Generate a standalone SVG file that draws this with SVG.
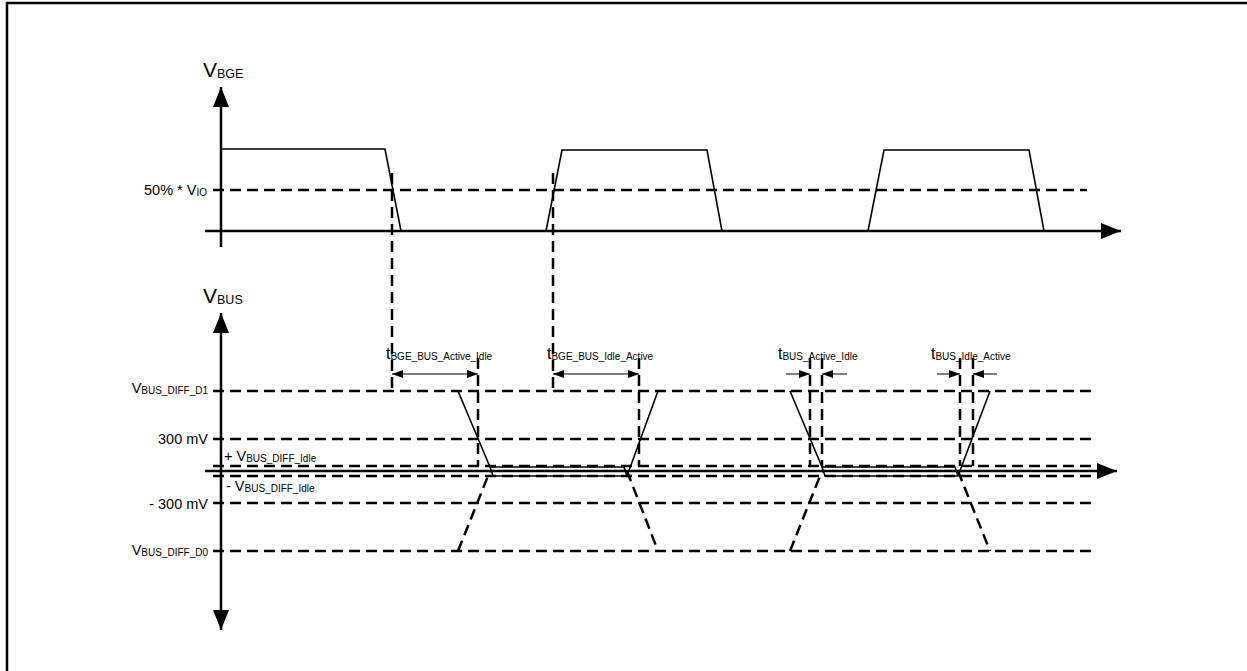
<svg xmlns="http://www.w3.org/2000/svg" width="1247" height="671" viewBox="0 0 1247 671">
<style>
text{font-family:"Liberation Sans",Arial,sans-serif;fill:#000}
.axis{stroke:#000;stroke-width:2.5;fill:none}
.wave{stroke:#000;stroke-width:1.6;fill:none;stroke-linejoin:miter}
.dash{stroke:#000;stroke-width:2.5;fill:none;stroke-dasharray:11 6}
.dim{stroke:#000;stroke-width:1;fill:none}
.frame{stroke:#000;stroke-width:2.5;fill:none}
</style>
<defs>
<marker id="big" markerUnits="userSpaceOnUse" markerWidth="22" markerHeight="18" refX="20" refY="8" orient="auto-start-reverse" viewBox="0 0 22 18">
<path d="M0,0 L20,8 L0,16 Z" fill="#000"/>
</marker>
<marker id="small" markerUnits="userSpaceOnUse" markerWidth="12" markerHeight="10" refX="11" refY="4" orient="auto-start-reverse" viewBox="0 0 12 10">
<path d="M0,0 L11,4 L0,8 Z" fill="#000"/>
</marker>
</defs>
<rect width="1247" height="671" fill="#fff"/>
<path class="frame" d="M7,671 V3 H1247"/>

<g id="top-graph">
<line class="axis" x1="221" y1="247" x2="221" y2="87" marker-end="url(#big)"/>
<line class="axis" x1="205" y1="231" x2="1121" y2="231" marker-end="url(#big)"/>
<line class="dash" x1="213" y1="190" x2="1087" y2="190"/>
<path class="wave" d="M221,149 H385 L401,231 M546,231 L562,150 H707 L722,231 M868,231 L884,150 H1029 L1044,231"/>
<text x="203" y="77" font-size="21">V<tspan font-size="12.5" dy="1">BGE</tspan></text>
<text x="207" y="195" font-size="14.5" text-anchor="end">50% * V<tspan font-size="10" dy="1">IO</tspan></text>
</g>

<g id="bottom-graph">
<line class="axis" x1="221" y1="471" x2="221" y2="313" marker-end="url(#big)"/>
<line class="axis" x1="221" y1="471" x2="221" y2="630" marker-end="url(#big)"/>
<line class="axis" x1="205" y1="471" x2="1117" y2="471" marker-end="url(#big)"/>
<line class="dash" x1="213" y1="391" x2="1093" y2="391"/>
<line class="dash" x1="213" y1="439" x2="1093" y2="439"/>
<line class="dash" x1="213" y1="466" x2="1093" y2="466"/>
<line class="dash" x1="213" y1="476" x2="1093" y2="476"/>
<line class="dash" x1="213" y1="503" x2="1093" y2="503"/>
<line class="dash" x1="213" y1="551" x2="1093" y2="551"/>
<text x="203" y="303" font-size="21">V<tspan font-size="12.5" dy="1">BUS</tspan></text>
<text x="208" y="393" font-size="14.5" text-anchor="end">V<tspan font-size="10" dy="1">BUS_DIFF_D1</tspan></text>
<text x="208" y="444" font-size="14.5" text-anchor="end">300 mV</text>
<text x="224" y="461" font-size="14.5">+ V<tspan font-size="10" dy="1">BUS_DIFF_Idle</tspan></text>
<text x="226" y="491" font-size="14.5">- V<tspan font-size="10" dy="1">BUS_DIFF_Idle</tspan></text>
<text x="208" y="509" font-size="14.5" text-anchor="end">- 300 mV</text>
<text x="208" y="555" font-size="14.5" text-anchor="end">V<tspan font-size="10" dy="1">BUS_DIFF_D0</tspan></text>
</g>

<g id="bus-waveform">
<path class="wave" d="M458,391 L490,467 L493,476 H627 L658,391 M490,467 H624 L627,476"/>
<path class="wave" d="M790,391 L822,467 L825,476 H958 L990,391 M822,467 H955 L958,476"/>
<path class="dash" d="M458,551 L490,471 M627,471 L658,551 M790,551 L822,471 M958,471 L990,551"/>
</g>

<g id="connectors">
<line class="dash" x1="392" y1="173" x2="392" y2="391"/>
<line class="dash" x1="553" y1="173" x2="553" y2="391"/>
<line class="dash" x1="478" y1="358" x2="478" y2="466"/>
<line class="dash" x1="639" y1="358" x2="639" y2="466"/>
<line class="dash" x1="810" y1="358" x2="810" y2="466"/>
<line class="dash" x1="822" y1="358" x2="822" y2="466"/>
<line class="dash" x1="960" y1="358" x2="960" y2="466"/>
<line class="dash" x1="973" y1="358" x2="973" y2="466"/>
<line class="dim" x1="392" y1="374" x2="478" y2="374" marker-start="url(#small)" marker-end="url(#small)"/>
<line class="dim" x1="553" y1="374" x2="639" y2="374" marker-start="url(#small)" marker-end="url(#small)"/>
<line class="dim" x1="786" y1="374" x2="810" y2="374" marker-end="url(#small)"/>
<line class="dim" x1="847" y1="374" x2="822" y2="374" marker-end="url(#small)"/>
<line class="dim" x1="937" y1="374" x2="960" y2="374" marker-end="url(#small)"/>
<line class="dim" x1="997" y1="374" x2="973" y2="374" marker-end="url(#small)"/>
</g>

<g id="time-labels">
<text x="386" y="359" font-size="16">t<tspan font-size="10" dy="1">BGE_BUS_Active_Idle</tspan></text>
<text x="547" y="359" font-size="16">t<tspan font-size="10" dy="1">BGE_BUS_Idle_Active</tspan></text>
<text x="778" y="359" font-size="16">t<tspan font-size="10" dy="1">BUS_Active_Idle</tspan></text>
<text x="931" y="359" font-size="16">t<tspan font-size="10" dy="1">BUS_Idle_Active</tspan></text>
</g>
</svg>
